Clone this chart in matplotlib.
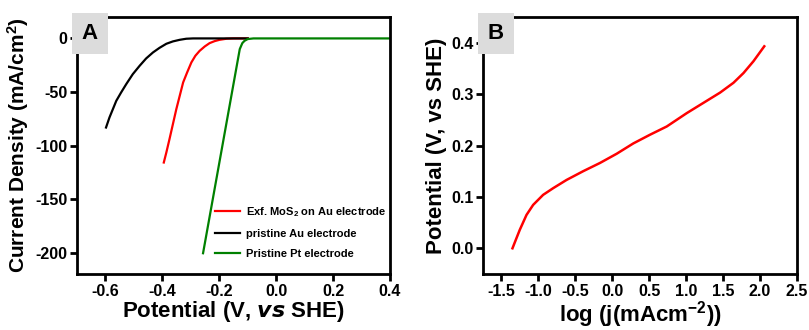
import numpy as np
import matplotlib.pyplot as plt

plt.rcParams['font.family'] = ['Liberation Sans', 'DejaVu Sans']
plt.rcParams['font.weight'] = 'bold'
plt.rcParams['mathtext.default'] = 'regular'

# Painel A: curvas de polarização
au_v = [-0.598, -0.586, -0.574, -0.562, -0.545, -0.527, -0.504, -0.480, -0.457, -0.433,
        -0.410, -0.386, -0.363, -0.339, -0.316, -0.292, -0.2, -0.1]
au_j = [-83.2, -73.9, -66.1, -58.3, -50.5, -42.7, -33.4, -25.6, -18.7, -13.1,
        -8.8, -5.0, -2.8, -1.3, -0.3, 0, 0, 0]

mos2_v = [-0.395, -0.386, -0.375, -0.363, -0.351, -0.339, -0.327, -0.313, -0.298, -0.284,
          -0.269, -0.251, -0.234, -0.216, -0.199, -0.175, -0.151, -0.1]
mos2_j = [-115.9, -106.5, -94.1, -80.1, -66.1, -53.6, -41.1, -31.8, -22.4, -16.2,
          -11.6, -7.5, -4.4, -2.5, -1.3, -0.3, 0, 0]

pt_v = [-0.257, -0.128, -0.119, -0.111, -0.100, -0.080, 0.0, 0.2, 0.4]
pt_j = [-200.6, -10.0, -4.4, -2.2, -0.6, 0, 0, 0, 0]

# Painel B: Tafel
tafel_x = [-1.351, -1.31, -1.252, -1.161, -1.071, -0.936, -0.80, -0.619, -0.394, -0.167,
           0.06, 0.284, 0.511, 0.737, 1.008, 1.234, 1.460, 1.640, 1.776, 1.911, 2.057]
tafel_y = [0.0, 0.015, 0.036, 0.065, 0.0845, 0.104, 0.117, 0.133, 0.150, 0.166,
           0.184, 0.204, 0.221, 0.237, 0.263, 0.283, 0.303, 0.322, 0.341, 0.364, 0.393]

fig = plt.figure(figsize=(8.09, 3.3), dpi=100)
axA = fig.add_axes([77/809, 1 - 274/330, 313/809, 257/330])
axB = fig.add_axes([483/809, 1 - 274/330, 314/809, 257/330])

axA.plot(mos2_v, mos2_j, color='red', lw=1.6, label='Exf. MoS$_2$ on Au electrode')
axA.plot(au_v, au_j, color='black', lw=1.6, label='pristine Au electrode')
axA.plot(pt_v, pt_j, color='green', lw=1.6, label='Pristine Pt electrode')
axA.set_xlim(-0.7, 0.4)
axA.set_ylim(-220, 20)
axA.set_xticks([-0.6, -0.4, -0.2, 0.0, 0.2, 0.4])
axA.set_xticklabels(['-0.6', '-0.4', '-0.2', '0.0', '0.2', '0.4'])
axA.set_yticks([0, -50, -100, -150, -200])
axA.set_yticklabels(['0', '-50', '-100', '-150', '-200'])
axA.set_xlabel('Potential (V, $\\it{vs}$ SHE)', fontsize=16, fontweight='bold', labelpad=0)
axA.set_ylabel('Current Density (mA/cm$^2$)', fontsize=15, fontweight='bold', labelpad=3)
axA.legend(loc='lower right', frameon=False, fontsize=8, handlelength=2.3,
           labelspacing=0.9, handletextpad=0.5, bbox_to_anchor=(1.02, 0.02))

axB.plot(tafel_x, tafel_y, color='red', lw=1.8)
axB.set_xlim(-1.75, 2.5)
axB.set_ylim(-0.05, 0.45)
axB.set_xticks([-1.5, -1.0, -0.5, 0.0, 0.5, 1.0, 1.5, 2.0, 2.5])
axB.set_xticklabels(['-1.5', '-1.0', '-0.5', '0.0', '0.5', '1.0', '1.5', '2.0', '2.5'])
axB.set_yticks([0.0, 0.1, 0.2, 0.3, 0.4])
axB.set_yticklabels(['0.0', '0.1', '0.2', '0.3', '0.4'])
axB.set_xlabel('log (j(mAcm$^{-2}$))', fontsize=16, fontweight='bold', labelpad=0)
axB.set_ylabel('Potential (V, vs SHE)', fontsize=16, fontweight='bold', labelpad=3)

for ax, letra in [(axA, 'A'), (axB, 'B')]:
    for s in ax.spines.values():
        s.set_linewidth(2)
    ax.tick_params(direction='out', width=2, length=5, labelsize=11.5, pad=2)
    ax.text(0.015, 0.975, letra, transform=ax.transAxes, fontsize=16, fontweight='bold',
            va='top', ha='left',
            bbox=dict(boxstyle='square,pad=0.45', fc='#dcdcdc', ec='none'))

fig.savefig('out.png', dpi=100)
